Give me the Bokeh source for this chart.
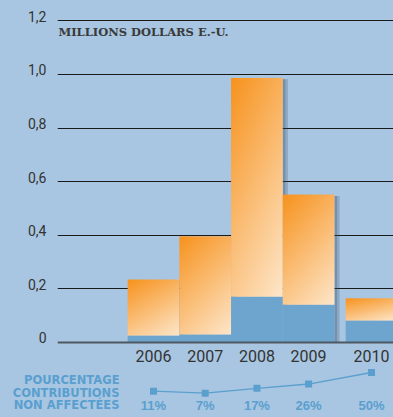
import numpy as np
from bokeh.plotting import figure
from bokeh.layouts import column
from bokeh.models import (FixedTicker, CustomJSTickFormatter, Span,
                          ColumnDataSource, GlobalInlineStyleSheet, Range1d,
                          LinearAxis)
from bokeh.core.properties import value
from bokeh.embed import file_html
from bokeh.resources import INLINE

# ---------------- data ----------------
years = ["2006", "2007", "2008", "2009", "2010"]
totals = [0.235, 0.396, 0.987, 0.552, 0.165]          # total contributions (M USD)
unearmarked = [0.026, 0.030, 0.171, 0.141, 0.082]     # non-earmarked part (M USD)
pct_values = [11, 7, 17, 26, 50]                      # % non-earmarked
pct_labels = ["11%", "7%", "17%", "26%", "50%"]
y_ticks = [0, 0.2, 0.4, 0.6, 0.8, 1.0, 1.2]
title_text = "MILLIONS DOLLARS E.-U."
side_label = ["POURCENTAGE", "CONTRIBUTIONS", "NON AFFECTÉES"]

# ---------------- style ----------------
BG = "#a8c6e1"
BLUE_BAR = "#6da5cf"
LABEL_BLUE = "#5a9fcf"
ORANGE0 = np.array([247, 147, 30], dtype=float)
ORANGE1 = np.array([254, 231, 203], dtype=float)
TEXT_DARK = "#333333"
SANS = "Roboto"

# x positions: one unit per year, with an extra gap before 2010
xpos = [2006 + i + (0.217 if y == "2010" else 0.0) for i, y in enumerate(years)]
lefts = [x - 0.5 for x in xpos]
rights = [x + 0.5 for x in xpos]

X_END = 2010.642
Y_TOP, Y_SPLIT, Y_BOT = 1.2761, -0.0896, -0.2799
LABEL_SHIFT = 0.0168

# ================= main chart =================
p = figure(width=393, height=366, output_backend="svg", toolbar_location=None,
           x_range=(2004.143, X_END), y_range=(Y_SPLIT, Y_TOP),
           x_axis_location=None, y_axis_location=None,
           min_border_left=57, min_border_right=0,
           min_border_top=0, min_border_bottom=0,
           background_fill_color=BG, border_fill_color=BG, outline_line_color=None)
p.frame_align = False
p.stylesheets = [GlobalInlineStyleSheet(css="html, body { background: %s; }" % BG)]

# y axis (labels sit on the grid lines)
p.extra_y_ranges = {"lab": Range1d(start=Y_SPLIT - LABEL_SHIFT, end=Y_TOP - LABEL_SHIFT)}
yax = LinearAxis(y_range_name="lab", ticker=FixedTicker(ticks=y_ticks),
                 formatter=CustomJSTickFormatter(
                     code="return tick == 0 ? '0' : tick.toFixed(1).replace('.', ',');"))
yax.axis_line_color = None
yax.major_tick_line_color = None
yax.minor_tick_line_color = None
yax.major_tick_out = 0
yax.major_tick_in = 0
yax.major_label_standoff = 11
yax.major_label_text_font = SANS
yax.major_label_text_font_size = "14px"
yax.major_label_text_color = TEXT_DARK
p.add_layout(yax, "left")

# grid
p.xgrid.visible = False
p.ygrid.ticker = FixedTicker(ticks=[t for t in y_ticks if t > 0])
p.ygrid.grid_line_color = "#1a1a1a"
p.ygrid.grid_line_width = 1.2

# shadows
p.quad(left=rights, right=[r + 0.1 for r in rights], bottom=0,
       top=[t - 0.005 for t in totals], fill_color="#2c4660", fill_alpha=0.22,
       line_color=None)
p.quad(left=rights, right=[r + 0.05 for r in rights], bottom=0,
       top=[t - 0.005 for t in totals], fill_color="#2c4660", fill_alpha=0.25,
       line_color=None)

# blue (non-earmarked) part
p.quad(left=lefts, right=rights, bottom=0, top=unearmarked,
       fill_color=BLUE_BAR, line_color=None)

# orange gradient part
nx, ny = 120, 120
u = np.linspace(0, 1, nx)[None, :]
vt = np.linspace(1, 0, ny)[:, None]   # row 0 is bottom -> distance from top = 1
t = np.clip(0.35 * u + 0.65 * vt, 0, 1)
img = np.empty((ny, nx), dtype=np.uint32)
view = img.view(dtype=np.uint8).reshape((ny, nx, 4))
for k in range(3):
    view[:, :, k] = (ORANGE0[k] + (ORANGE1[k] - ORANGE0[k]) * t).astype(np.uint8)
view[:, :, 3] = 255
p.image_rgba(image=[img] * len(years), x=lefts, y=unearmarked,
             dw=[1.0] * len(years),
             dh=[tot - b for tot, b in zip(totals, unearmarked)])

# baseline
p.add_layout(Span(location=0, dimension="width", line_color="#4f5862",
                  line_width=2))

# title
p.text(x=[2004.162], y=[1.1586], text=[title_text], text_font=value("DejaVu Serif"),
       text_font_style="bold", text_font_size="11.5px", text_color="#3a3a3a",
       text_align="left", text_baseline="middle")

# year labels
p.text(x=xpos, y=[-0.052] * len(years), text=years,
       text_font=value(SANS), text_font_size="16px",
       text_color=TEXT_DARK, text_align="center", text_baseline="middle")

# ================= percentage strip =================
q = figure(width=393, height=51, output_backend="svg", toolbar_location=None,
           x_range=(2003.0406, X_END), y_range=(Y_BOT, Y_SPLIT),
           x_axis_location=None, y_axis_location=None,
           min_border_left=0, min_border_right=0,
           min_border_top=0, min_border_bottom=0,
           background_fill_color=BG, border_fill_color=BG, outline_line_color=None)
q.frame_align = False
q.xgrid.visible = False
q.ygrid.visible = False

PCT_BASE, PCT_SCALE = -0.2015, 0.00179
pct_y = [PCT_BASE + v * PCT_SCALE for v in pct_values]
src = ColumnDataSource(dict(x=xpos, y=pct_y, lab=pct_labels))
q.line("x", "y", source=src, line_color="#5b9fcf", line_width=1.3)
q.scatter("x", "y", source=src, marker="square", size=7, fill_color="#5b9fcf",
          line_color=None)
q.text("x", -0.235, text="lab", source=src, text_font=value("Liberation Sans"),
       text_font_style="bold", text_font_size="13px", text_color=LABEL_BLUE,
       text_align="center", text_baseline="middle")

q.text(x=[2005.342] * 3, y=[-0.1418, -0.1892, -0.2351], text=side_label,
       text_align="right", text_baseline="middle", text_font=value("DejaVu Sans"),
       text_font_style="bold", text_font_size="11.5px", text_color=LABEL_BLUE)

layout = column(p, q, spacing=0)
open("out.html", "w").write(file_html(layout, INLINE))
